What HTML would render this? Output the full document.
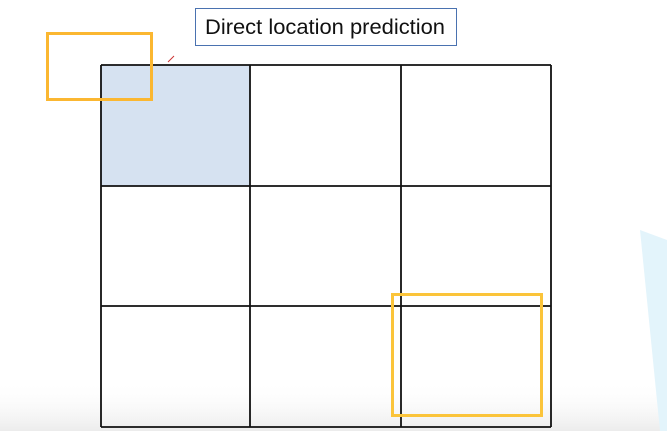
<!DOCTYPE html>
<html><head><meta charset="utf-8"><style>
html,body{margin:0;padding:0;background:#fff;width:667px;height:431px;overflow:hidden}
svg{display:block}
</style></head><body>
<svg width="667" height="431" viewBox="0 0 667 431">
<defs><linearGradient id="fade" x1="0" y1="0" x2="0" y2="1"><stop offset="0" stop-color="#fff" stop-opacity="0"/><stop offset="1" stop-color="#ececec"/></linearGradient></defs>
<rect x="0" y="380" width="667" height="51" fill="url(#fade)"/>
<polygon points="640,230 667,240 667,431 660,431" fill="#e3f4fb"/>
<rect x="195.5" y="8.5" width="261" height="37" fill="#fff" stroke="#4a72b0" stroke-width="1"/>
<text x="325" y="34" text-anchor="middle" font-family="Liberation Sans, sans-serif" font-size="21" textLength="240" lengthAdjust="spacingAndGlyphs" fill="#111">Direct location prediction</text>
<rect x="101" y="65" width="149" height="121" fill="#d6e2f1"/>
<g id="grid" stroke="#111" stroke-width="1.8" fill="none"></g>
<rect x="47.5" y="33.5" width="104" height="66" fill="none" stroke="#fbb731" stroke-width="3"/>
<rect x="392.5" y="294.5" width="149" height="121" fill="none" stroke="#fbc43a" stroke-width="3"/>
<line x1="168" y1="62" x2="174" y2="56" stroke="#c33" stroke-width="1"/>
</svg>
<script>
const colX=[101,250,401,551];
const rowY=[65,186,306,427];
const g=document.getElementById('grid');
const ns='http://www.w3.org/2000/svg';
colX.forEach(x=>{const l=document.createElementNS(ns,'line');


l.setAttribute('x1',x);l.setAttribute('x2',x);l.setAttribute('y1',rowY[0]);l.setAttribute('y2',rowY[3]);g.appendChild(l);});
rowY.forEach(y=>{const l=document.createElementNS(ns,'line');


l.setAttribute('y1',y);l.setAttribute('y2',y);l.setAttribute('x1',colX[0]);l.setAttribute('x2',colX[3]);g.appendChild(l);});
</script>
</body></html>
